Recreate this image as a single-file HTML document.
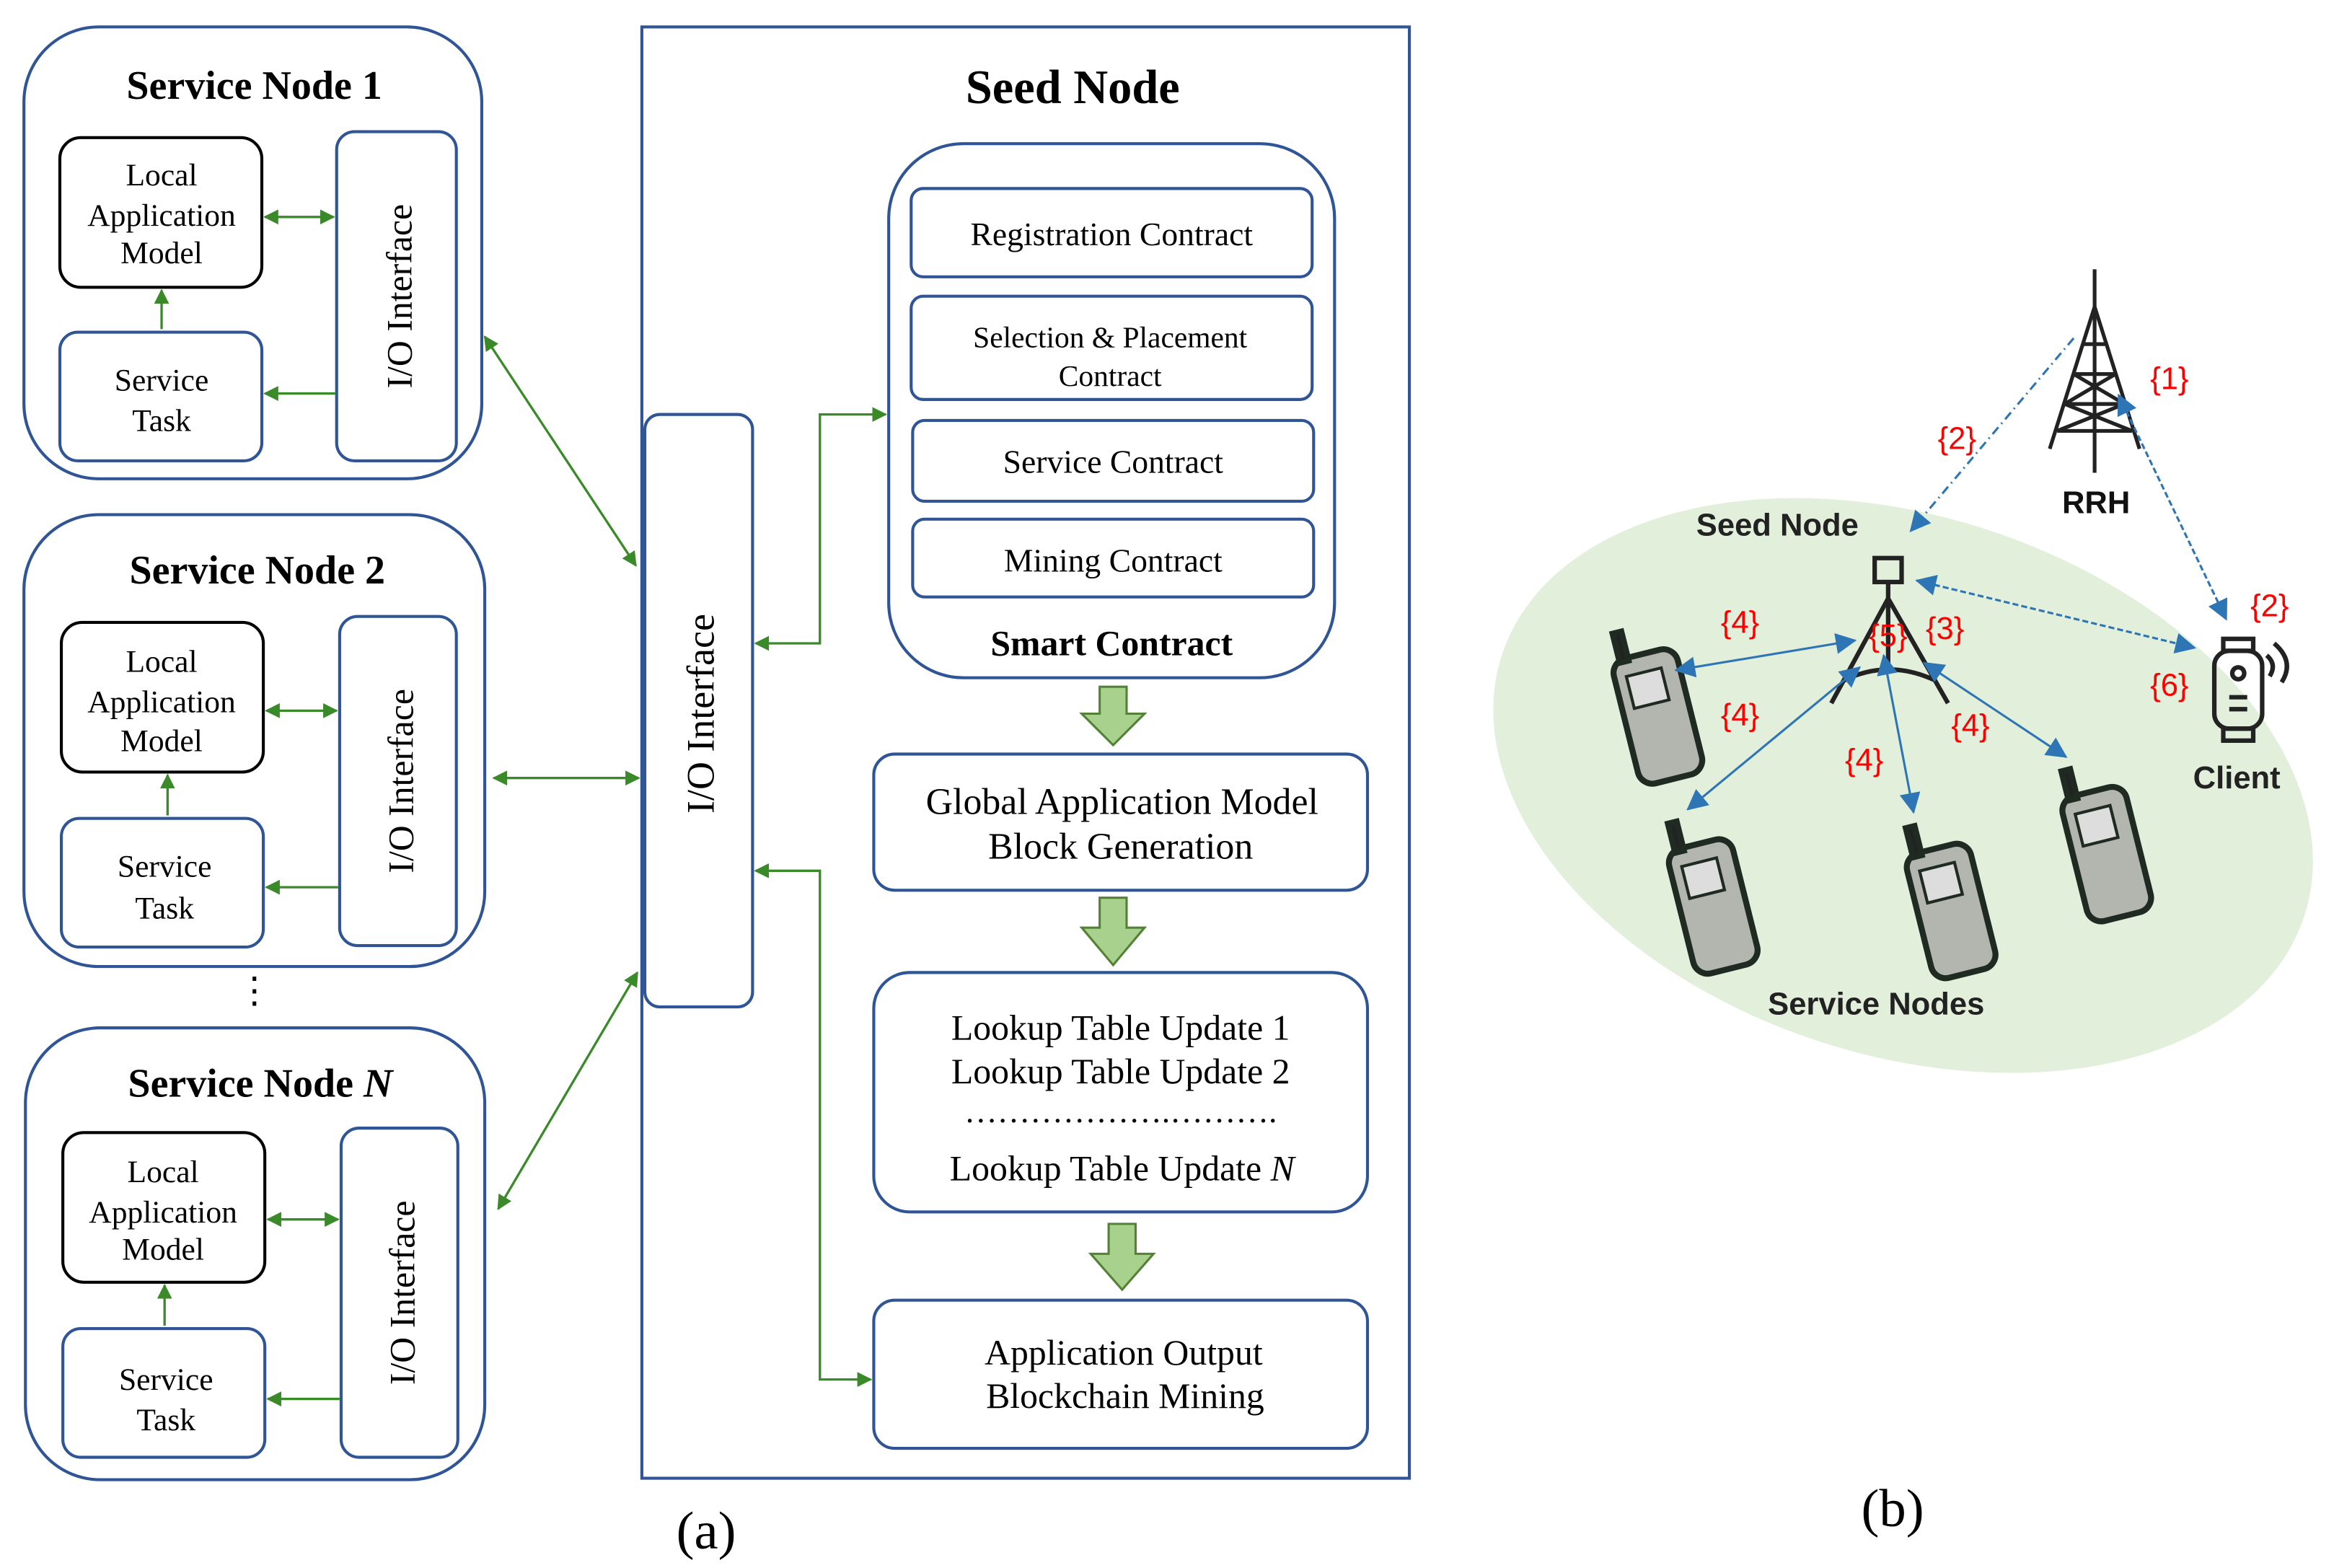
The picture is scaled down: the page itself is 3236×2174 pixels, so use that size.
<!DOCTYPE html>
<html><head><meta charset="utf-8"><style>
html,body{margin:0;padding:0;background:#fff;}
svg{display:block;}
.serif{font-family:"Liberation Serif",serif;}
.sans{font-family:"Liberation Sans","DejaVu Sans",sans-serif;}
</style></head><body>
<svg width="3236" height="2174" viewBox="0 0 1560 1048" preserveAspectRatio="none" xmlns="http://www.w3.org/2000/svg">
<defs>
<marker id="ga" markerWidth="10" markerHeight="10" refX="9" refY="5" orient="auto-start-reverse" markerUnits="userSpaceOnUse"><path d="M0,0 L10,5 L0,10 z" fill="#3a8a2a"/></marker>
<marker id="ba" markerWidth="14" markerHeight="14" refX="13" refY="7" orient="auto-start-reverse" markerUnits="userSpaceOnUse"><path d="M0,0 L14,7 L0,14 z" fill="#2e75b6"/></marker>
</defs>
<g class="serif" fill="none" stroke-width="2">
<rect x="16" y="18" width="306" height="302" rx="50" stroke="#2f5597"/>
<rect x="40" y="92" width="135" height="100" rx="14" stroke="#000"/>
<rect x="40" y="222" width="135" height="86" rx="12" stroke="#2f5597"/>
<rect x="225" y="88" width="80" height="220" rx="12" stroke="#2f5597"/>
<rect x="16" y="344" width="308" height="302" rx="50" stroke="#2f5597"/>
<rect x="41" y="416" width="135" height="100" rx="14" stroke="#000"/>
<rect x="41" y="547" width="135" height="86" rx="12" stroke="#2f5597"/>
<rect x="227" y="412" width="78" height="220" rx="12" stroke="#2f5597"/>
<rect x="17" y="687" width="307" height="302" rx="50" stroke="#2f5597"/>
<rect x="42" y="757" width="135" height="100" rx="14" stroke="#000"/>
<rect x="42" y="888" width="135" height="86" rx="12" stroke="#2f5597"/>
<rect x="228" y="754" width="78" height="220" rx="12" stroke="#2f5597"/>
<rect x="429" y="18" width="513" height="970" stroke="#2f5597"/>
<rect x="431" y="277" width="72" height="396" rx="10" stroke="#2f5597"/>
<rect x="594" y="96" width="298" height="357" rx="50" stroke="#2f5597"/>
<rect x="609" y="126" width="268" height="59" rx="8" stroke="#2f5597"/>
<rect x="609" y="198" width="268" height="69" rx="8" stroke="#2f5597"/>
<rect x="610" y="281" width="268" height="54" rx="8" stroke="#2f5597"/>
<rect x="610" y="347" width="268" height="52" rx="8" stroke="#2f5597"/>
<rect x="584" y="504" width="330" height="91" rx="14" stroke="#2f5597"/>
<rect x="584" y="650" width="330" height="160" rx="24" stroke="#2f5597"/>
<rect x="584" y="869" width="330" height="99" rx="14" stroke="#2f5597"/>
</g>
<g stroke="#3a8a2a" stroke-width="1.6" fill="none">
<line x1="177" y1="145" x2="223" y2="145" marker-start="url(#ga)" marker-end="url(#ga)"/>
<line x1="108" y1="220" x2="108" y2="194" marker-end="url(#ga)"/>
<line x1="224" y1="263" x2="177" y2="263" marker-end="url(#ga)"/>
<line x1="178" y1="475" x2="225" y2="475" marker-start="url(#ga)" marker-end="url(#ga)"/>
<line x1="112" y1="545" x2="112" y2="518" marker-end="url(#ga)"/>
<line x1="226" y1="593" x2="178" y2="593" marker-end="url(#ga)"/>
<line x1="179" y1="815" x2="226" y2="815" marker-start="url(#ga)" marker-end="url(#ga)"/>
<line x1="110" y1="886" x2="110" y2="859" marker-end="url(#ga)"/>
<line x1="227" y1="935" x2="179" y2="935" marker-end="url(#ga)"/>
<line x1="324" y1="225" x2="425" y2="378" marker-start="url(#ga)" marker-end="url(#ga)"/>
<line x1="330" y1="520" x2="427" y2="520" marker-start="url(#ga)" marker-end="url(#ga)"/>
<line x1="333" y1="808" x2="426" y2="650" marker-start="url(#ga)" marker-end="url(#ga)"/>
<polyline points="505,430 548,430 548,277 592,277" marker-start="url(#ga)" marker-end="url(#ga)"/>
<polyline points="505,582 548,582 548,922 582,922" marker-start="url(#ga)" marker-end="url(#ga)"/>
</g>
<g fill="#a9d18e" stroke="#548235" stroke-width="1.5">
<path d="M735,459 h18 v18 h12 l-21,21 l-21,-21 h12 z"/>
<path d="M735,600 h18 v20 h12 l-21,25 l-21,-25 h12 z"/>
<path d="M741,818 h18 v20 h12 l-21,24 l-21,-24 h12 z"/>
</g>
<g class="serif" fill="#000" text-anchor="middle">
<text x="170" y="66" font-size="27" font-weight="bold">Service Node 1</text>
<text x="172" y="390" font-size="27" font-weight="bold">Service Node 2</text>
<text x="174" y="733" font-size="27" font-weight="bold">Service Node <tspan font-style="italic">N</tspan></text>
<g font-size="21">
<text x="108" y="124">Local</text><text x="108" y="151">Application</text><text x="108" y="176">Model</text>
<text x="108" y="261">Service</text><text x="108" y="288">Task</text>
<text x="108" y="449">Local</text><text x="108" y="476">Application</text><text x="108" y="502">Model</text>
<text x="110" y="586">Service</text><text x="110" y="614">Task</text>
<text x="109" y="790">Local</text><text x="109" y="817">Application</text><text x="109" y="842">Model</text>
<text x="111" y="929">Service</text><text x="111" y="956">Task</text>
</g>
<g font-size="24">
<text transform="translate(275,198) rotate(-90)">I/O Interface</text>
<text transform="translate(276,522) rotate(-90)">I/O Interface</text>
<text transform="translate(277,864) rotate(-90)">I/O Interface</text>
<text transform="translate(477,477) rotate(-90)" font-size="26">I/O Interface</text>
</g>
<text x="170" y="670" font-size="24">⋮</text>
<text x="717" y="69" font-size="32" font-weight="bold">Seed Node</text>
<text x="743" y="164" font-size="22">Registration Contract</text>
<text x="742" y="232" font-size="20">Selection  &amp; Placement</text>
<text x="742" y="258" font-size="20">Contract</text>
<text x="744" y="316" font-size="22">Service Contract</text>
<text x="744" y="382" font-size="22">Mining Contract</text>
<text x="743" y="438" font-size="24" font-weight="bold">Smart Contract</text>
<text x="750" y="544" font-size="25">Global Application Model</text>
<text x="749" y="574" font-size="25">Block Generation</text>
<text x="749" y="695" font-size="24">Lookup Table Update 1</text>
<text x="749" y="724" font-size="24">Lookup Table Update 2</text>
<text x="749" y="750" font-size="22">……………….……….</text>
<text x="750" y="789" font-size="24">Lookup Table Update <tspan font-style="italic">N</tspan></text>
<text x="751" y="912" font-size="24">Application Output</text>
<text x="752" y="941" font-size="24">Blockchain Mining</text>
<text x="472" y="1035" font-size="36">(a)</text>
<text x="1265" y="1020" font-size="36">(b)</text>
</g>
<ellipse cx="1272" cy="525" rx="282" ry="180" transform="rotate(18 1272 525)" fill="#e2efda"/>
<g stroke="#222" stroke-width="2.5" fill="none">
<line x1="1400" y1="180" x2="1400" y2="316"/>
<path d="M1400,205 L1370,300 M1400,205 L1430,300 M1386,250 L1414,250 M1380,270 L1420,270 M1375,288 L1425,288 M1386,250 L1420,270 M1414,250 L1380,270 M1380,270 L1425,288 M1420,270 L1375,288 M1392,230 L1408,230"/>
</g>
<g stroke="#222" stroke-width="3" fill="none">
<rect x="1253" y="373" width="18" height="16"/>
<line x1="1262" y1="389" x2="1262" y2="450"/>
<path d="M1262,400 L1224,470 M1262,400 L1302,470 M1232,455 Q1262,440 1294,455"/>
</g>
<g fill="#b3b6ae" stroke="#1f2a22" stroke-width="4">
<g transform="translate(1072,425) rotate(-14)"><rect x="0" y="18" width="44" height="86" rx="10"/><rect x="6" y="0" width="6" height="20" fill="#222"/><rect x="8" y="30" width="24" height="22" fill="#ddd" stroke-width="2"/></g>
<g transform="translate(1109,552) rotate(-14)"><rect x="0" y="18" width="44" height="86" rx="10"/><rect x="6" y="0" width="6" height="20" fill="#222"/><rect x="8" y="30" width="24" height="22" fill="#ddd" stroke-width="2"/></g>
<g transform="translate(1268,555) rotate(-14)"><rect x="0" y="18" width="44" height="86" rx="10"/><rect x="6" y="0" width="6" height="20" fill="#222"/><rect x="8" y="30" width="24" height="22" fill="#ddd" stroke-width="2"/></g>
<g transform="translate(1372,517) rotate(-14)"><rect x="0" y="18" width="44" height="86" rx="10"/><rect x="6" y="0" width="6" height="20" fill="#222"/><rect x="8" y="30" width="24" height="22" fill="#ddd" stroke-width="2"/></g>
</g>
<g stroke="#222" stroke-width="3" fill="none">
<rect x="1486" y="427" width="20" height="8"/>
<rect x="1480" y="435" width="32" height="52" rx="10"/>
<circle cx="1496" cy="450" r="4"/>
<line x1="1490" y1="466" x2="1502" y2="466"/><line x1="1490" y1="474" x2="1502" y2="474"/>
<rect x="1486" y="487" width="20" height="8"/>
<path d="M1515,438 Q1522,444 1517,452 M1520,430 Q1534,442 1525,456"/>
</g>
<g stroke="#2e75b6" stroke-width="1.5" fill="none">
<line x1="1386" y1="226" x2="1277" y2="355" stroke-dasharray="6,3,1,3" marker-end="url(#ba)"/>
<line x1="1416" y1="264" x2="1488" y2="414" stroke-dasharray="4,2" marker-start="url(#ba)" marker-end="url(#ba)"/>
<line x1="1281" y1="388" x2="1467" y2="433" stroke-dasharray="4,2" marker-start="url(#ba)" marker-end="url(#ba)"/>
<line x1="1120" y1="448" x2="1240" y2="428" marker-start="url(#ba)" marker-end="url(#ba)"/>
<line x1="1128" y1="541" x2="1243" y2="446" marker-start="url(#ba)" marker-end="url(#ba)"/>
<line x1="1259" y1="438" x2="1279" y2="543" marker-start="url(#ba)" marker-end="url(#ba)"/>
<line x1="1286" y1="443" x2="1381" y2="506" marker-start="url(#ba)" marker-end="url(#ba)"/>
</g>
<g class="sans" text-anchor="middle" font-weight="bold">
<text x="1401" y="343" font-size="21" fill="#111">RRH</text>
<text x="1188" y="358" font-size="21" fill="#222">Seed Node</text>
<text x="1495" y="527" font-size="21" fill="#222">Client</text>
<text x="1254" y="678" font-size="21" fill="#222">Service Nodes</text>
</g>
<g class="sans" text-anchor="middle" font-size="21" fill="#ff0000">
<text x="1450" y="260">{1}</text>
<text x="1308" y="300">{2}</text>
<text x="1517" y="412">{2}</text>
<text x="1163" y="423">{4}</text>
<text x="1262" y="432">{5}</text>
<text x="1300" y="427">{3}</text>
<text x="1163" y="485">{4}</text>
<text x="1317" y="492">{4}</text>
<text x="1246" y="515">{4}</text>
<text x="1450" y="465">{6}</text>
</g>
</svg>
</body></html>
